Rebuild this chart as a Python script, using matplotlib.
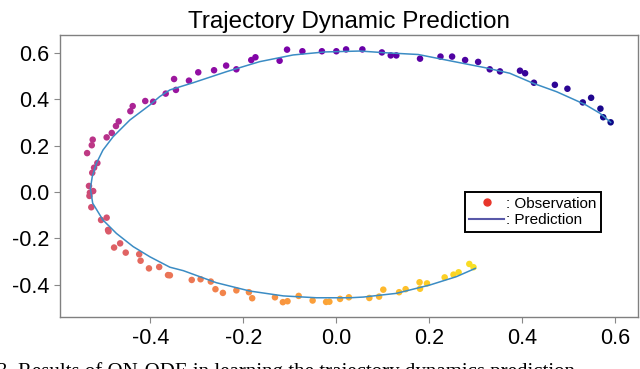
import matplotlib.pyplot as plt
from matplotlib.lines import Line2D
import numpy as np

# observed points, in trajectory order (start top right, end bottom right)
obs_x = [0.590, 0.574, 0.568, 0.548, 0.530, 0.497, 0.470, 0.425, 0.406, 0.395,
         0.352, 0.330, 0.305, 0.277, 0.249, 0.224, 0.180, 0.129, 0.117, 0.098,
         0.056, 0.021, 0.000, -0.031, -0.073, -0.106, -0.122, -0.174, -0.183, -0.215,
         -0.237, -0.263, -0.297, -0.317, -0.345, -0.349, -0.367, -0.394, -0.411, -0.438,
         -0.443, -0.468, -0.474, -0.483, -0.494, -0.524, -0.526, -0.536, -0.514, -0.521,
         -0.525, -0.532, -0.523, -0.530, -0.531, -0.527, -0.494, -0.506, -0.491, -0.490,
         -0.465, -0.478, -0.453, -0.424, -0.421, -0.381, -0.403, -0.362, -0.358, -0.311,
         -0.292, -0.270, -0.260, -0.244, -0.215, -0.188, -0.181, -0.132, -0.115, -0.105,
         -0.081, -0.051, -0.022, -0.015, 0.008, 0.027, 0.071, 0.092, 0.101, 0.135,
         0.149, 0.179, 0.180, 0.195, 0.233, 0.252, 0.263, 0.286, 0.295]
obs_y = [0.301, 0.323, 0.360, 0.407, 0.387, 0.446, 0.463, 0.472, 0.513, 0.524,
         0.521, 0.530, 0.562, 0.570, 0.585, 0.585, 0.576, 0.590, 0.590, 0.603,
         0.616, 0.616, 0.608, 0.608, 0.608, 0.615, 0.567, 0.582, 0.570, 0.530,
         0.546, 0.526, 0.517, 0.481, 0.441, 0.488, 0.425, 0.390, 0.393, 0.371,
         0.349, 0.305, 0.285, 0.255, 0.236, 0.226, 0.202, 0.168, 0.125, 0.105,
         0.083, 0.026, 0.004, -0.003, -0.017, -0.066, -0.111, -0.121, -0.164, -0.170,
         -0.222, -0.240, -0.262, -0.269, -0.297, -0.324, -0.330, -0.359, -0.360, -0.380,
         -0.377, -0.387, -0.420, -0.436, -0.425, -0.433, -0.459, -0.455, -0.476, -0.472,
         -0.449, -0.469, -0.475, -0.474, -0.462, -0.455, -0.458, -0.452, -0.422, -0.433,
         -0.420, -0.390, -0.418, -0.395, -0.369, -0.357, -0.347, -0.311, -0.325]

# predicted trajectory
pred_x = [0.590, 0.567, 0.535, 0.474, 0.423, 0.373, 0.320, 0.244, 0.176, 0.101,
          0.051, -0.025, -0.093, -0.165, -0.236, -0.308, -0.358, -0.380, -0.401, -0.444,
          -0.480, -0.502, -0.516, -0.525, -0.529, -0.524, -0.519, -0.502, -0.473, -0.437,
          -0.401, -0.358, -0.329, -0.258, -0.186, -0.114, -0.043, 0.029, 0.058, 0.129,
          0.201, 0.258, 0.299]
pred_y = [0.301, 0.340, 0.378, 0.433, 0.470, 0.513, 0.537, 0.567, 0.594, 0.602,
          0.609, 0.605, 0.592, 0.563, 0.520, 0.472, 0.441, 0.412, 0.376, 0.311,
          0.239, 0.181, 0.124, 0.066, 0.015, -0.049, -0.065, -0.121, -0.179, -0.236,
          -0.280, -0.325, -0.340, -0.392, -0.428, -0.449, -0.457, -0.457, -0.454, -0.438,
          -0.402, -0.366, -0.330]

plt.rcParams['font.family'] = ['Liberation Sans', 'DejaVu Sans']
plt.rcParams['axes.unicode_minus'] = False

fig = plt.figure(figsize=(6.4, 3.69), dpi=100)
ax = fig.add_axes([0.094, 0.141, 0.903, 0.764])

ax.plot(pred_x, pred_y, color='#3b8cc4', lw=1.1, zorder=3)
order = np.arange(len(obs_x))
ax.scatter(obs_x, obs_y, c=order, cmap='plasma', vmin=0, vmax=len(obs_x) * 1.05,
           s=22, linewidths=0, zorder=2)

ax.set_xlim(-0.594, 0.649)
ax.set_ylim(-0.54, 0.678)
ax.set_xticks([-0.4, -0.2, 0.0, 0.2, 0.4, 0.6])
ax.set_yticks([-0.4, -0.2, 0.0, 0.2, 0.4, 0.6])
ax.tick_params(labelsize=15.5, length=4, color='#888888', pad=4)
for s in ax.spines.values():
    s.set_color('#808080')
    s.set_linewidth(1.0)

ax.set_title('Trajectory Dynamic Prediction', fontsize=17.5, pad=5)

handles = [Line2D([], [], marker='o', color='#e8352a', ls='none', markersize=5),
           Line2D([], [], color='#5858a8', lw=1.5)]
leg = ax.legend(handles, [': Observation', ': Prediction'], loc='upper left',
                bbox_to_anchor=(0.70, 0.443), borderaxespad=0, fontsize=11,
                fancybox=False, framealpha=1, edgecolor='black',
                handlelength=2.3, handletextpad=0.1, labelspacing=0.15,
                borderpad=0.3)
leg.get_frame().set_linewidth(1.4)

fig.text(-0.004, 0.018, '3. Results of ON-ODE in learning the trajectory dynamics prediction.',
         fontsize=15, family=['Liberation Serif', 'DejaVu Serif'], va='top', ha='left')

fig.savefig('out.png', dpi=100)
